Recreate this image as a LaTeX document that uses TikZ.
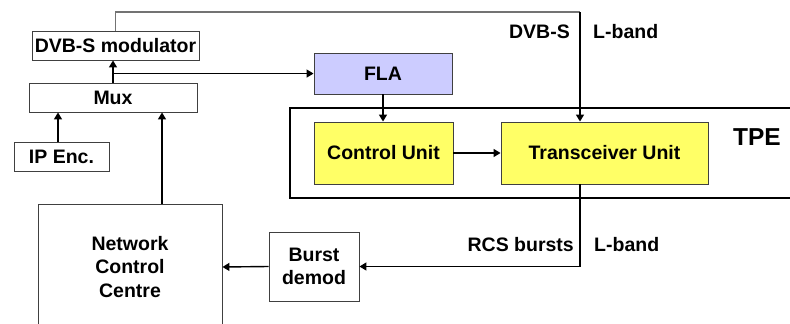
\documentclass[tikz,border=0pt]{standalone}
\usepackage{fontspec}
\setmainfont{Liberation Sans}
\usetikzlibrary{arrows.meta}
\definecolor{flablue}{HTML}{CCCCFF}
\definecolor{unityellow}{HTML}{FFFF66}
\tikzset{
	blockbox/.style={draw=black!75,line width=0.9pt,align=center,inner sep=0pt,
		font=\fontsize{19.5}{23.5}\selectfont\bfseries},
	lbl/.style={inner sep=0pt,font=\fontsize{19.5}{23.5}\selectfont\bfseries},
	arr/.style={-{Triangle[length=7pt,width=8pt]},line width=1.4pt},
}
\begin{document}
\begin{tikzpicture}[x=1pt,y=-1pt]
		\useasboundingbox (0,0) rectangle (790,324);
		\node[blockbox,minimum width=167pt,minimum height=29pt] (mod) at (115.5,45.5) {DVB-S modulator};
		\node[blockbox,minimum width=168pt,minimum height=29pt] (mux) at (113,97.5) {Mux};
		\node[blockbox,minimum width=95pt,minimum height=29pt] (ipenc) at (61.5,156.5) {IP Enc.};
		\node[blockbox,fill=flablue,minimum width=138pt,minimum height=41pt] (fla) at (383,73.5) {FLA};
		\node[draw,line width=2.6pt,minimum width=512pt,minimum height=90pt] (tpe) at (546,153) {};
		\node[blockbox,fill=unityellow,minimum width=139pt,minimum height=62pt] (ctrl) at (383.5,153) {Control Unit};
		\node[blockbox,fill=unityellow,minimum width=207pt,minimum height=62pt] (trx) at (604.5,153) {Transceiver Unit};
		\node[lbl,font=\fontsize{24.5}{28}\selectfont\bfseries] (tpelbl) at (757,137) {TPE};
		\node[blockbox,minimum width=184pt,minimum height=126pt] (ncc) at (130,267) {Network\\Control\\Centre};
		\node[blockbox,minimum width=90pt,minimum height=69pt] (burst) at (314,266.5) {Burst\\demod};
		% forward link
		\coordinate (dvbtop) at (580,12);
		\coordinate (branch) at ([yshift=9pt]mux.north);
		\draw[black!55,line width=1.3pt] (mod.north) |- (dvbtop);
		\draw[arr] (dvbtop) -- (dvbtop |- trx.north);
		\node[lbl,anchor=east] (dvbs) at (570,32) {DVB-S};
		\node[lbl,anchor=west] (lbandf) at (593,32) {L-band};
		\draw[arr] ([xshift=-3.5pt]ipenc.north) -- ([xshift=-3.5pt]ipenc.north |- mux.south);
		\draw[arr] ([xshift=32pt]ncc.north) -- ([xshift=32pt]ncc.north |- mux.south);
		\draw[arr] (mux.north) -- (mux.north |- mod.south);
		\draw[arr] (branch) -- (branch -| fla.west);
		\draw[arr] (fla.south) -- (fla.south |- ctrl.north);
		\draw[arr] (ctrl.east) -- (trx.west);
		% return link
		\coordinate (rcsout) at (dvbtop |- trx.south);
		\draw[arr] (rcsout) |- (burst.east);
		\node[lbl,anchor=east] (rcs) at (574,245) {RCS bursts};
		\node[lbl,anchor=west] (lbandr) at (594,245) {L-band};
		\draw[arr] (burst.west) -- (ncc.east);
	\end{tikzpicture}
\end{document}
